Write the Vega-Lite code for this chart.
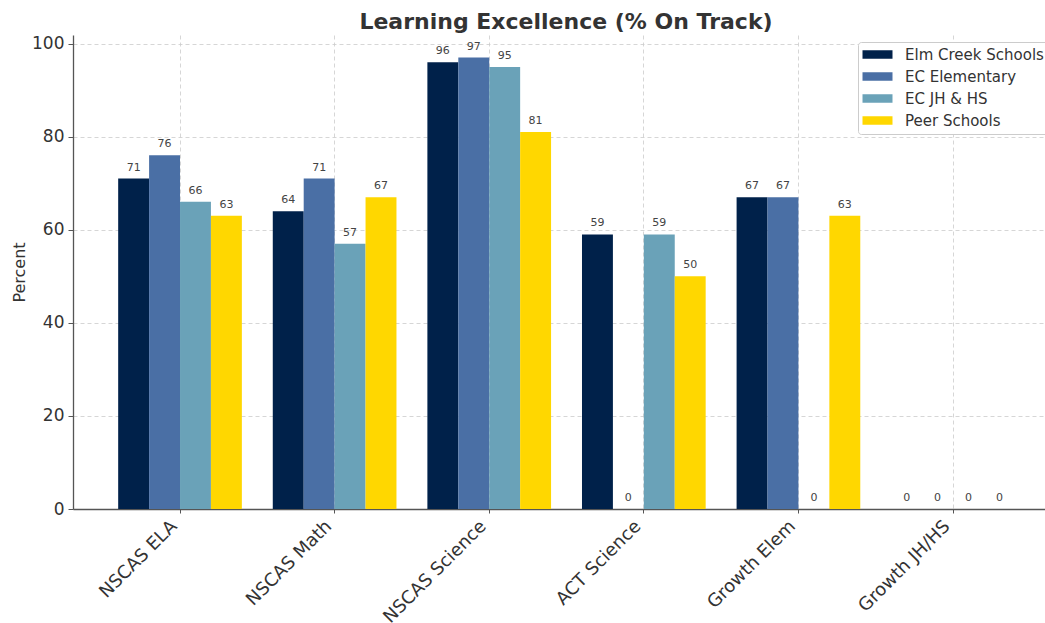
{
  "$schema": "https://vega.github.io/schema/vega-lite/v6.json",
  "autosize": {"type": "none"},
  "width": 972,
  "height": 474,
  "padding": {"left": 73, "top": 35, "right": 0, "bottom": 114},
  "background": "white",
  "title": {
    "text": "Learning Excellence (% On Track)",
    "fontSize": 22,
    "fontWeight": "bold",
    "font": "DejaVu Sans",
    "color": "#333333",
    "anchor": "middle",
    "frame": "group",
    "baseline": "alphabetic",
    "offset": -16,
    "dx": 7
  },
  "config": {
    "font": "DejaVu Sans",
    "view": {"stroke": null},
    "axis": {
      "gridDash": [4, 3],
      "gridColor": "#cccccc",
      "gridWidth": 0.8,
      "domainColor": "#555555",
      "domainWidth": 1.3,
      "tickColor": "#555555",
      "labelColor": "#333333",
      "labelFont": "DejaVu Sans",
      "titleFont": "DejaVu Sans"
    }
  },
  "data": {
    "values": [
      {"metric": "NSCAS ELA", "group": "Elm Creek Schools", "value": 71},
      {"metric": "NSCAS ELA", "group": "EC Elementary", "value": 76},
      {"metric": "NSCAS ELA", "group": "EC JH & HS", "value": 66},
      {"metric": "NSCAS ELA", "group": "Peer Schools", "value": 63},
      {"metric": "NSCAS Math", "group": "Elm Creek Schools", "value": 64},
      {"metric": "NSCAS Math", "group": "EC Elementary", "value": 71},
      {"metric": "NSCAS Math", "group": "EC JH & HS", "value": 57},
      {"metric": "NSCAS Math", "group": "Peer Schools", "value": 67},
      {"metric": "NSCAS Science", "group": "Elm Creek Schools", "value": 96},
      {"metric": "NSCAS Science", "group": "EC Elementary", "value": 97},
      {"metric": "NSCAS Science", "group": "EC JH & HS", "value": 95},
      {"metric": "NSCAS Science", "group": "Peer Schools", "value": 81},
      {"metric": "ACT Science", "group": "Elm Creek Schools", "value": 59},
      {"metric": "ACT Science", "group": "EC Elementary", "value": 0},
      {"metric": "ACT Science", "group": "EC JH & HS", "value": 59},
      {"metric": "ACT Science", "group": "Peer Schools", "value": 50},
      {"metric": "Growth Elem", "group": "Elm Creek Schools", "value": 67},
      {"metric": "Growth Elem", "group": "EC Elementary", "value": 67},
      {"metric": "Growth Elem", "group": "EC JH & HS", "value": 0},
      {"metric": "Growth Elem", "group": "Peer Schools", "value": 63},
      {"metric": "Growth JH/HS", "group": "Elm Creek Schools", "value": 0},
      {"metric": "Growth JH/HS", "group": "EC Elementary", "value": 0},
      {"metric": "Growth JH/HS", "group": "EC JH & HS", "value": 0},
      {"metric": "Growth JH/HS", "group": "Peer Schools", "value": 0}
    ]
  },
  "encoding": {
    "x": {
      "field": "metric",
      "type": "nominal",
      "sort": null,
      "scale": {"paddingInner": 0.2, "paddingOuter": 0.2435, "align": 0.6},
      "axis": {
        "title": null,
        "labelAngle": -45,
        "labelAlign": "right",
        "labelBaseline": "top",
        "labelFontSize": 18,
        "labelPadding": 4,
        "labelOffset": -12,
        "tickSize": 4,
        "grid": true,
        "domainWidth": 1.3
      }
    },
    "xOffset": {
      "field": "group",
      "type": "nominal",
      "sort": ["Elm Creek Schools", "EC Elementary", "EC JH & HS", "Peer Schools"],
      "scale": {"paddingInner": 0, "paddingOuter": 0}
    },
    "y": {
      "field": "value",
      "type": "quantitative",
      "scale": {"domain": [0, 101.85], "nice": false},
      "axis": {
        "title": "Percent",
        "titleFontSize": 16,
        "titleFontWeight": "normal",
        "titleColor": "#333333",
        "titleX": -54,
        "titleY": 237,
        "titleAngle": 270,
        "titleAlign": "center",
        "titleBaseline": "middle",
        "values": [0, 20, 40, 60, 80, 100],
        "labelFontSize": 17,
        "labelPadding": 4,
        "tickSize": 5,
        "grid": true
      }
    }
  },
  "layer": [
    {
      "mark": {"type": "bar"},
      "encoding": {
        "color": {
          "field": "group",
          "type": "nominal",
          "sort": ["Elm Creek Schools", "EC Elementary", "EC JH & HS", "Peer Schools"],
          "scale": {
            "domain": ["Elm Creek Schools", "EC Elementary", "EC JH & HS", "Peer Schools"],
            "range": ["#00214a", "#4a6fa5", "#6aa2b8", "#ffd700"]
          },
          "legend": {
            "title": null,
            "orient": "none",
            "legendX": 785,
            "legendY": 7,
            "fillColor": "white",
            "strokeColor": "#cccccc",
            "cornerRadius": 3,
            "padding": 5,
            "labelFontSize": 15,
            "labelLimit": 400,
            "labelColor": "#333333",
            "labelFont": "DejaVu Sans",
            "symbolType": "M-3,-0.85H3V0.85H-3Z",
            "symbolSize": 100,
            "symbolStrokeWidth": 0,
            "symbolOffset": 7,
            "labelOffset": 20,
            "rowPadding": 6
          }
        }
      }
    },
    {
      "mark": {"type": "text", "baseline": "alphabetic", "dy": -8, "fontSize": 11, "color": "#444444"},
      "encoding": {
        "text": {"field": "value", "type": "quantitative"}
      }
    }
  ]
}
